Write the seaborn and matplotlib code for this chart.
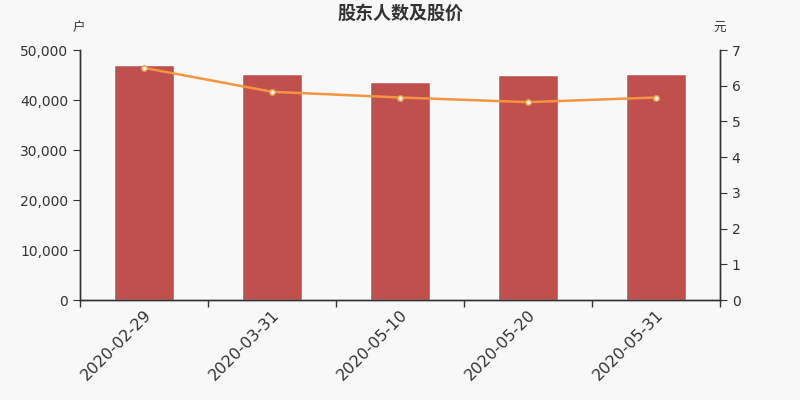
import matplotlib
matplotlib.use("Agg")
import matplotlib.pyplot as plt
import matplotlib.ticker as mticker
import seaborn as sns
import pandas as pd
import numpy as np

dates = ["2020-02-29", "2020-03-31", "2020-05-10", "2020-05-20", "2020-05-31"]
holders = [47000, 45200, 43600, 45000, 45300]
prices = [6.50, 5.83, 5.67, 5.54, 5.67]

sns.set_style("white")
plt.rcParams['font.family'] = ['DejaVu Sans', 'Noto Sans CJK SC']

bg = "#f8f8f8"
fig = plt.figure(figsize=(8, 4), dpi=100, facecolor=bg)
ax = fig.add_axes([0.1, 0.25, 0.8, 0.625], facecolor=bg)

df = pd.DataFrame({"date": dates, "holders": holders, "price": prices})
sns.barplot(data=df, x="date", y="holders", color="#c0504d", saturation=1,
            width=0.47, ax=ax)
ax.set_xlim(-0.5, len(dates) - 0.5)
ax.set_ylim(0, 50000)
ax.set_yticks(np.arange(0, 50001, 10000))
ax.yaxis.set_major_formatter(mticker.FuncFormatter(lambda v, p: f"{int(v):,}"))
ax.set_xlabel("")
ax.set_ylabel("")

ax2 = ax.twinx()
sns.lineplot(x=np.arange(len(dates)), y=df["price"], ax=ax2, color="#f5953f",
             linewidth=1.8, marker="o", markersize=4, markerfacecolor="white",
             markeredgecolor="#f5953f", markeredgewidth=1.0)
ax2.set_ylim(0, 7)
ax2.set_yticks(range(0, 8))
ax2.set_xlim(-0.5, len(dates) - 0.5)
ax2.set_ylabel("")

for a in (ax, ax2):
    for s in a.spines.values():
        s.set_color("#333333")
        s.set_linewidth(1.0)
    a.spines["top"].set_visible(False)

ax.set_xticks(range(len(dates)))
ax.set_xticklabels(dates, rotation=45, ha="right", rotation_mode="anchor",
                   fontsize=11.5, color="#333333")
ax.set_xticks(np.arange(-0.5, len(dates), 1.0), minor=True)
ax.tick_params(axis="x", which="major", length=0, pad=5, bottom=True)
ax.tick_params(axis="x", which="minor", length=5, width=1, color="#333333",
               direction="out", bottom=True)
ax.tick_params(axis="y", length=5, color="#333333", labelsize=10, labelcolor="#333333",
               direction="out", left=True)
ax2.tick_params(axis="y", length=5, color="#333333", labelsize=10, labelcolor="#333333",
                direction="out", right=True)

fig.text(0.5, 0.967, "股东人数及股价", ha="center", va="center", fontsize=13,
         fontweight="bold", color="#333333", family=["Noto Sans CJK SC", "DejaVu Sans"])
fig.text(0.098, 0.93, "户", ha="center", va="center", fontsize=9, color="#333333",
         family=["Noto Sans CJK SC", "DejaVu Sans"])
fig.text(0.899, 0.93, "元", ha="center", va="center", fontsize=9, color="#333333",
         family=["Noto Sans CJK SC", "DejaVu Sans"])

fig.savefig("out.png", dpi=100, facecolor=bg)
